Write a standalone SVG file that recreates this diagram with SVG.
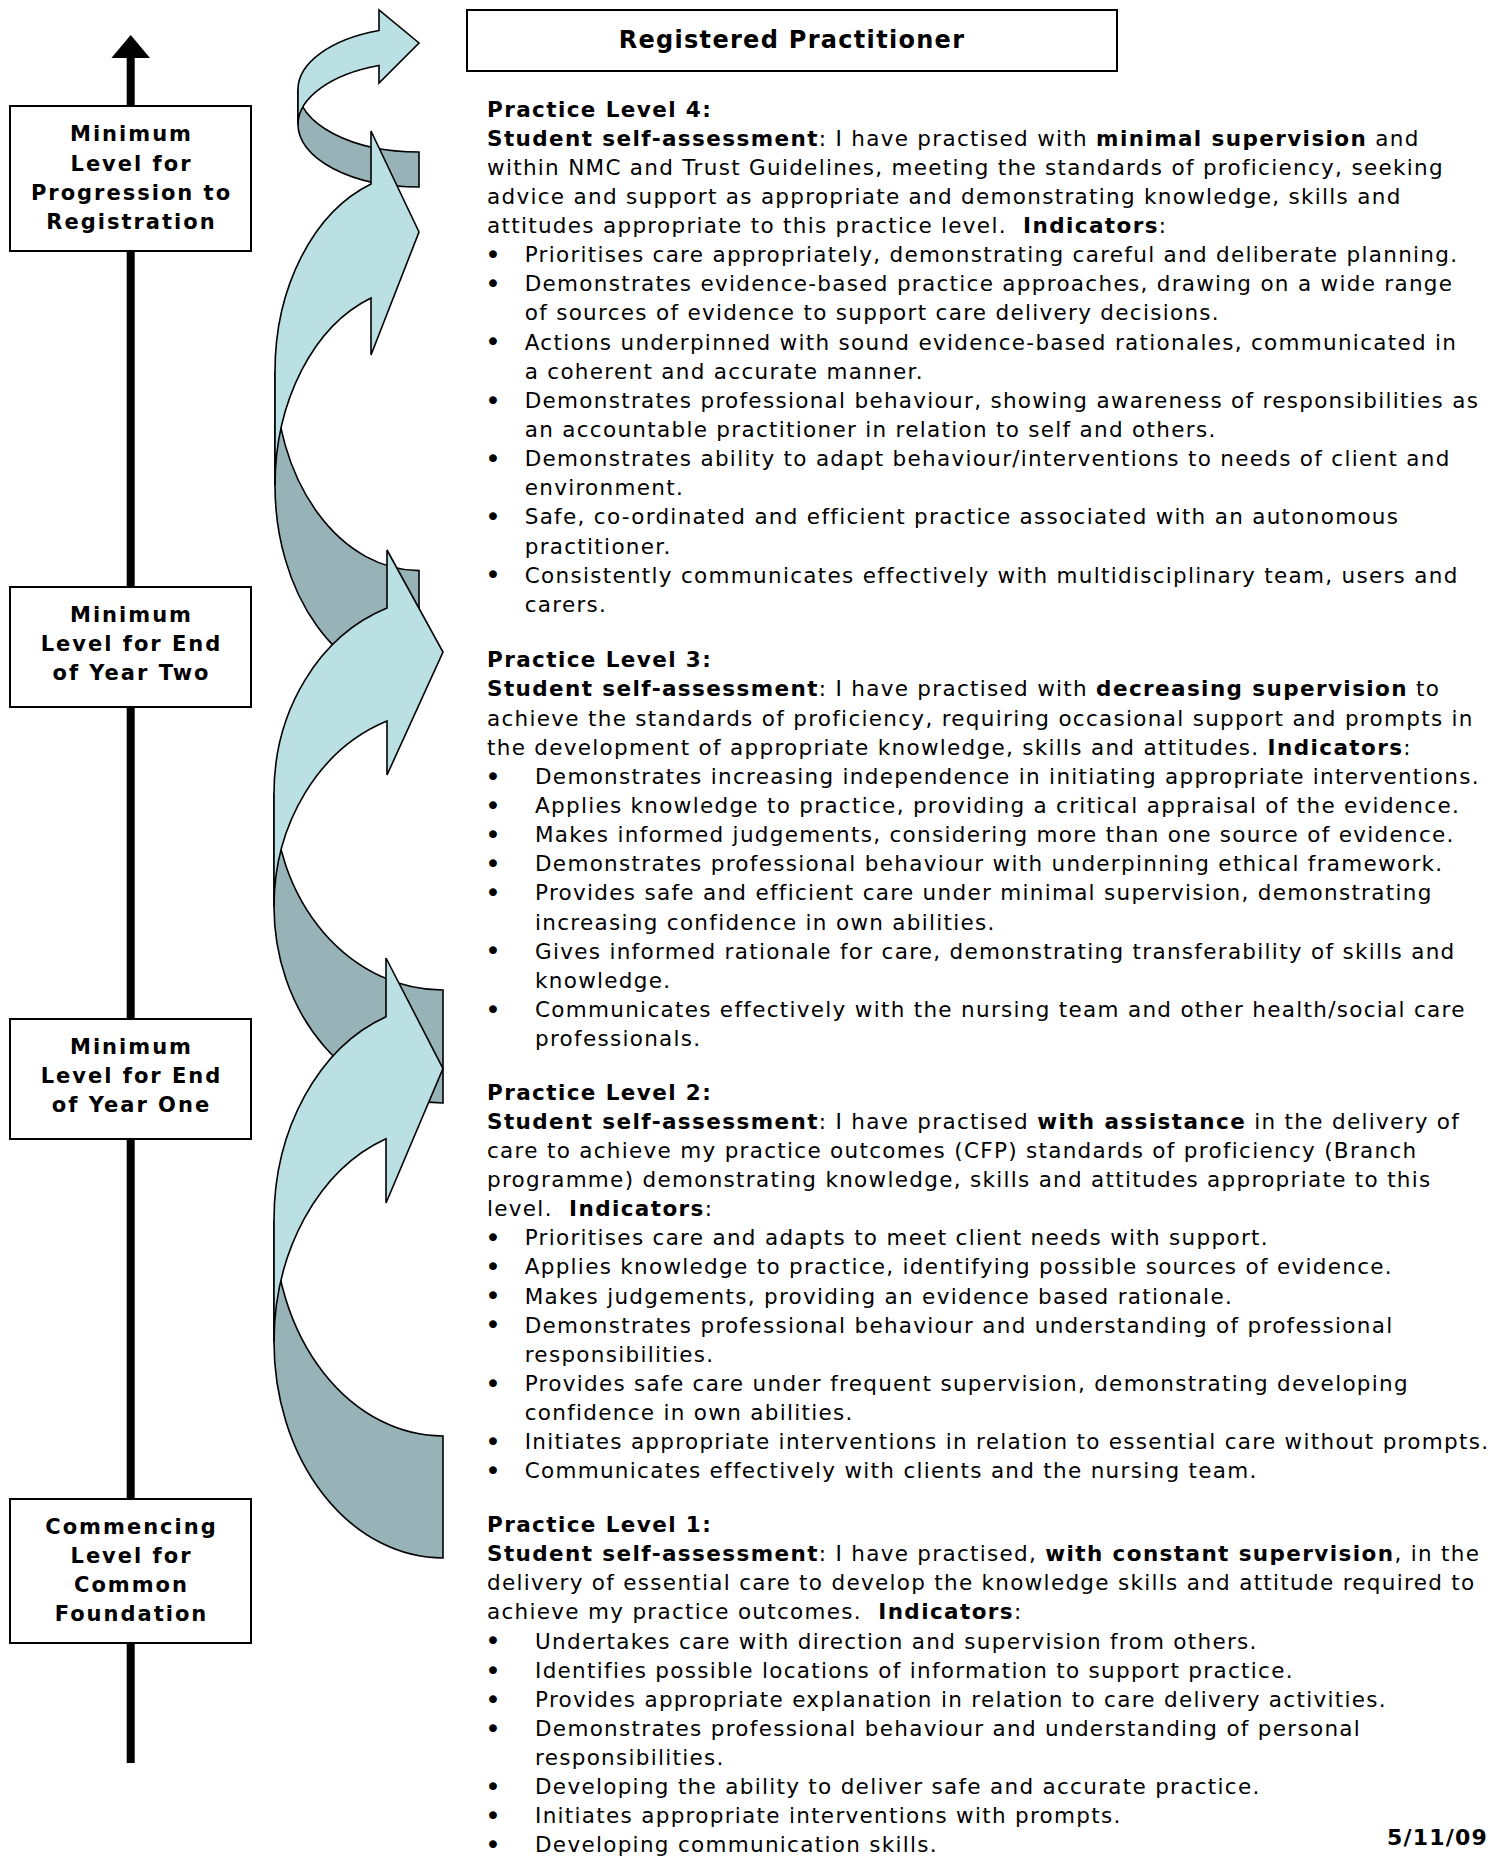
<svg xmlns="http://www.w3.org/2000/svg" width="1502" height="1857" viewBox="0 0 1502 1857">
<style>
.t{font-family:"DejaVu Sans",Verdana,sans-serif;font-size:21.5px;letter-spacing:1.3px;fill:#000;white-space:pre}
.b{font-weight:bold;letter-spacing:1.4px}
.bul{font-family:"DejaVu Sans",Verdana,sans-serif;font-size:27px;fill:#000;text-anchor:middle}
.lbl{font-family:"DejaVu Sans",Verdana,sans-serif;font-weight:bold;font-size:21px;letter-spacing:2px;fill:#000;text-anchor:middle}
.box{fill:#fff;stroke:#000;stroke-width:2}
.lt{fill:#BBE0E3;stroke:#000;stroke-width:1.6;stroke-linejoin:miter}
.dk{fill:#97B3B7;stroke:#000;stroke-width:1.6;stroke-linejoin:miter}
</style>
<rect width="1502" height="1857" fill="#fff"/>
<g id="connectors">
  <line x1="130.7" y1="56" x2="130.7" y2="1763" stroke="#000" stroke-width="8"/>
  <polygon points="130.7,35 150,58 111.4,58" fill="#000"/>
</g>
<g id="spiral-arrows">
  <g id="arrow1">
    <path class="dk" d="M298,124.5 A121,62.5 0 0 0 419,187 L419,152 A121,62.5 0 0 1 298,89.5 Z"/>
    <path class="lt" d="M298,89.5 A121,62.5 0 0 1 379,30.5 L379,10 L419,43 L379,83 L379,65.5 A121,62.5 0 0 0 298,124.5 Z"/>
  </g>
  <g id="arrow2">
    <path class="dk" d="M275,485.6 A144,199 0 0 0 419,684.6 L419,570.6 A144,199 0 0 1 275,371.6 Z"/>
    <path class="lt" d="M275,371.6 A144,199 0 0 1 371,184 L371,131 L419,232 L371,355 L371,298 A144,199 0 0 0 275,485.6 Z"/>
  </g>
  <g id="arrow3">
    <path class="dk" d="M274,906.5 A169,196.5 0 0 0 443,1103 L443,990 A169,196.5 0 0 1 274,793.5 Z"/>
    <path class="lt" d="M274,793.5 A169,196.5 0 0 1 387,608.1 L387,550 L443,652 L387,775 L387,721.1 A169,196.5 0 0 0 274,906.5 Z"/>
  </g>
  <g id="arrow4">
    <path class="dk" d="M274,1342 A169,216 0 0 0 443,1558 L443,1436 A169,216 0 0 1 274,1220 Z"/>
    <path class="lt" d="M274,1220 A169,216 0 0 1 386,1016.7 L386,958 L443,1068.6 L386,1203 L386,1138.7 A169,216 0 0 0 274,1342 Z"/>
  </g>
</g>
<g id="node-registration">
  <rect class="box" x="10" y="106" width="241" height="145"/>
  <text class="lbl" x="131.5" y="141">Minimum</text>
  <text class="lbl" x="131.5" y="170.5">Level for</text>
  <text class="lbl" x="131.5" y="199.5">Progression to</text>
  <text class="lbl" x="131.5" y="228.5">Registration</text>
</g>
<g id="node-year-two">
  <rect class="box" x="10" y="587" width="241" height="120"/>
  <text class="lbl" x="131.5" y="622">Minimum</text>
  <text class="lbl" x="131.5" y="651">Level for End</text>
  <text class="lbl" x="131.5" y="680">of Year Two</text>
</g>
<g id="node-year-one">
  <rect class="box" x="10" y="1019" width="241" height="120"/>
  <text class="lbl" x="131.5" y="1054">Minimum</text>
  <text class="lbl" x="131.5" y="1083">Level for End</text>
  <text class="lbl" x="131.5" y="1112">of Year One</text>
</g>
<g id="node-common-foundation">
  <rect class="box" x="10" y="1499" width="241" height="144"/>
  <text class="lbl" x="131.5" y="1534">Commencing</text>
  <text class="lbl" x="131.5" y="1563">Level for</text>
  <text class="lbl" x="131.5" y="1592">Common</text>
  <text class="lbl" x="131.5" y="1621">Foundation</text>
</g>
<g id="node-registered-practitioner">
  <rect class="box" x="467" y="10" width="650" height="61"/>
  <text class="t b" x="792" y="47.5" style="font-size:24px;letter-spacing:1.3px;text-anchor:middle">Registered Practitioner</text>
</g>
<g id="level4">
<text class="t b" x="487" y="116.5">Practice Level 4:</text>
<text class="t" x="487" y="145.6"><tspan class="b">Student self-assessment</tspan>: I have practised with <tspan class="b">minimal supervision</tspan> and</text>
<text class="t" x="487" y="174.8">within NMC and Trust Guidelines, meeting the standards of proficiency, seeking</text>
<text class="t" x="487" y="203.9">advice and support as appropriate and demonstrating knowledge, skills and</text>
<text class="t" x="487" y="233.0">attitudes appropriate to this practice level.  <tspan class="b">Indicators</tspan>:</text>
<text class="bul" x="493" y="264">•</text><text class="t" x="524.7" y="262.2">Prioritises care appropriately, demonstrating careful and deliberate planning.</text>
<text class="bul" x="493" y="293.1">•</text><text class="t" x="524.7" y="291.3">Demonstrates evidence-based practice approaches, drawing on a wide range</text>
<text class="t" x="524.7" y="320.4">of sources of evidence to support care delivery decisions.</text>
<text class="bul" x="493" y="351.3">•</text><text class="t" x="524.7" y="349.5">Actions underpinned with sound evidence-based rationales, communicated in</text>
<text class="t" x="524.7" y="378.7">a coherent and accurate manner.</text>
<text class="bul" x="493" y="409.6">•</text><text class="t" x="524.7" y="407.8">Demonstrates professional behaviour, showing awareness of responsibilities as</text>
<text class="t" x="524.7" y="436.9">an accountable practitioner in relation to self and others.</text>
<text class="bul" x="493" y="467.9">•</text><text class="t" x="524.7" y="466.1">Demonstrates ability to adapt behaviour/interventions to needs of client and</text>
<text class="t" x="524.7" y="495.2">environment.</text>
<text class="bul" x="493" y="526.1">•</text><text class="t" x="524.7" y="524.3">Safe, co-ordinated and efficient practice associated with an autonomous</text>
<text class="t" x="524.7" y="553.5">practitioner.</text>
<text class="bul" x="493" y="584.4">•</text><text class="t" x="524.7" y="582.6">Consistently communicates effectively with multidisciplinary team, users and</text>
<text class="t" x="524.7" y="611.7">carers.</text>
</g>
<g id="level3">
<text class="t b" x="487" y="667.3">Practice Level 3:</text>
<text class="t" x="487" y="696.4"><tspan class="b">Student self-assessment</tspan>: I have practised with <tspan class="b">decreasing supervision</tspan> to</text>
<text class="t" x="487" y="725.6">achieve the standards of proficiency, requiring occasional support and prompts in</text>
<text class="t" x="487" y="754.7">the development of appropriate knowledge, skills and attitudes. <tspan class="b">Indicators</tspan>:</text>
<text class="bul" x="493" y="785.6">•</text><text class="t" x="535" y="783.8">Demonstrates increasing independence in initiating appropriate interventions.</text>
<text class="bul" x="493" y="814.8">•</text><text class="t" x="535" y="813.0">Applies knowledge to practice, providing a critical appraisal of the evidence.</text>
<text class="bul" x="493" y="843.9">•</text><text class="t" x="535" y="842.1">Makes informed judgements, considering more than one source of evidence.</text>
<text class="bul" x="493" y="873.0">•</text><text class="t" x="535" y="871.2">Demonstrates professional behaviour with underpinning ethical framework.</text>
<text class="bul" x="493" y="902.1">•</text><text class="t" x="535" y="900.3">Provides safe and efficient care under minimal supervision, demonstrating</text>
<text class="t" x="535" y="929.5">increasing confidence in own abilities.</text>
<text class="bul" x="493" y="960.4">•</text><text class="t" x="535" y="958.6">Gives informed rationale for care, demonstrating transferability of skills and</text>
<text class="t" x="535" y="987.7">knowledge.</text>
<text class="bul" x="493" y="1018.7">•</text><text class="t" x="535" y="1016.9">Communicates effectively with the nursing team and other health/social care</text>
<text class="t" x="535" y="1046.0">professionals.</text>
</g>
<g id="level2">
<text class="t b" x="487" y="1099.6">Practice Level 2:</text>
<text class="t" x="487" y="1128.7"><tspan class="b">Student self-assessment</tspan>: I have practised <tspan class="b">with assistance</tspan> in the delivery of</text>
<text class="t" x="487" y="1157.9">care to achieve my practice outcomes (CFP) standards of proficiency (Branch</text>
<text class="t" x="487" y="1187.0">programme) demonstrating knowledge, skills and attitudes appropriate to this</text>
<text class="t" x="487" y="1216.1">level.  <tspan class="b">Indicators</tspan>:</text>
<text class="bul" x="493" y="1247.1">•</text><text class="t" x="524.7" y="1245.3">Prioritises care and adapts to meet client needs with support.</text>
<text class="bul" x="493" y="1276.2">•</text><text class="t" x="524.7" y="1274.4">Applies knowledge to practice, identifying possible sources of evidence.</text>
<text class="bul" x="493" y="1305.3">•</text><text class="t" x="524.7" y="1303.5">Makes judgements, providing an evidence based rationale.</text>
<text class="bul" x="493" y="1334.4">•</text><text class="t" x="524.7" y="1332.6">Demonstrates professional behaviour and understanding of professional</text>
<text class="t" x="524.7" y="1361.8">responsibilities.</text>
<text class="bul" x="493" y="1392.7">•</text><text class="t" x="524.7" y="1390.9">Provides safe care under frequent supervision, demonstrating developing</text>
<text class="t" x="524.7" y="1420.0">confidence in own abilities.</text>
<text class="bul" x="493" y="1451.0">•</text><text class="t" x="524.7" y="1449.2">Initiates appropriate interventions in relation to essential care without prompts.</text>
<text class="bul" x="493" y="1480.1">•</text><text class="t" x="524.7" y="1478.3">Communicates effectively with clients and the nursing team.</text>
</g>
<g id="level1">
<text class="t b" x="487" y="1532.0">Practice Level 1:</text>
<text class="t" x="487" y="1561.1"><tspan class="b">Student self-assessment</tspan>: I have practised, <tspan class="b">with constant supervision</tspan>, in the</text>
<text class="t" x="487" y="1590.3">delivery of essential care to develop the knowledge skills and attitude required to</text>
<text class="t" x="487" y="1619.4">achieve my practice outcomes.  <tspan class="b">Indicators</tspan>:</text>
<text class="bul" x="493" y="1650.3">•</text><text class="t" x="535" y="1648.5">Undertakes care with direction and supervision from others.</text>
<text class="bul" x="493" y="1679.5">•</text><text class="t" x="535" y="1677.7">Identifies possible locations of information to support practice.</text>
<text class="bul" x="493" y="1708.6">•</text><text class="t" x="535" y="1706.8">Provides appropriate explanation in relation to care delivery activities.</text>
<text class="bul" x="493" y="1737.7">•</text><text class="t" x="535" y="1735.9">Demonstrates professional behaviour and understanding of personal</text>
<text class="t" x="535" y="1765.0">responsibilities.</text>
<text class="bul" x="493" y="1796.0">•</text><text class="t" x="535" y="1794.2">Developing the ability to deliver safe and accurate practice.</text>
<text class="bul" x="493" y="1825.1">•</text><text class="t" x="535" y="1823.3">Initiates appropriate interventions with prompts.</text>
<text class="bul" x="493" y="1854.2">•</text><text class="t" x="535" y="1852.4">Developing communication skills.</text>
</g>
<g id="date">
<text class="t b" x="1488" y="1845" style="font-size:22px;letter-spacing:1.2px;text-anchor:end">5/11/09</text>
</g>
</svg>
